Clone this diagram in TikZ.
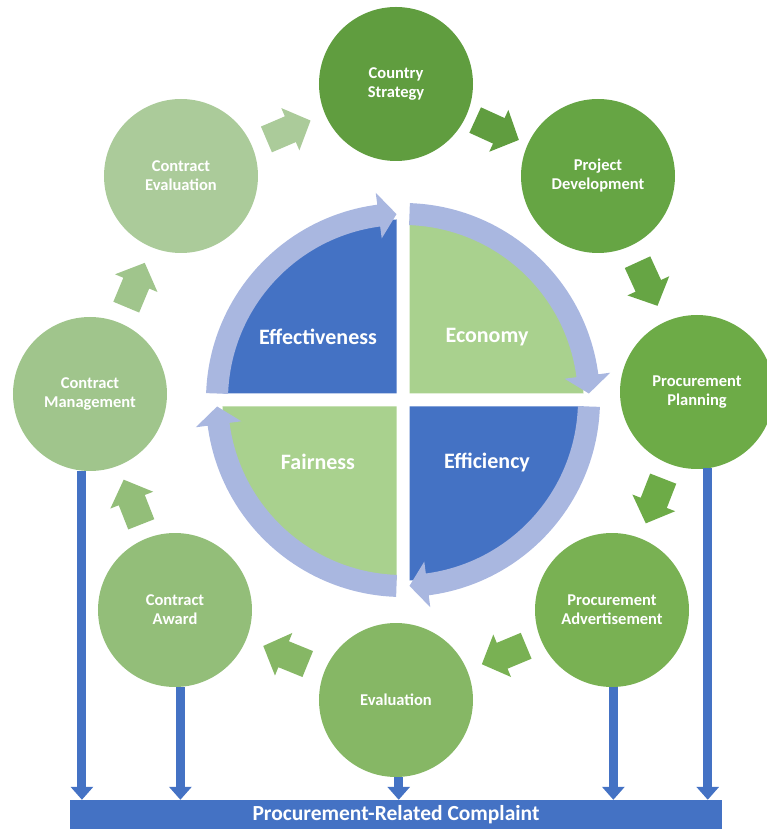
\documentclass[tikz,border=0pt]{standalone}
\usepackage{fontspec}
\setmainfont{Carlito}
\usetikzlibrary{arrows.meta}
\usetikzlibrary{calc}

\definecolor{csgreen}{HTML}{609D3F}
\definecolor{pdgreen}{HTML}{66A544}
\definecolor{ppgreen}{HTML}{6DAB47}
\definecolor{pagreen}{HTML}{79B153}
\definecolor{evgreen}{HTML}{86B765}
\definecolor{cagreen}{HTML}{93BE79}
\definecolor{cmgreen}{HTML}{A0C58C}
\definecolor{cegreen}{HTML}{ABCB9A}
\definecolor{qblue}{HTML}{4472C4}
\definecolor{qgreen}{HTML}{A9D18E}
\definecolor{ringblue}{HTML}{A9B7E0}

% curved block arrow on the ring: colour, tail angle, head base angle, tip angle
\newcommand{\ringarrow}[4]{%
	\fill[#1] (#2:197) arc[start angle=#2, end angle=#3, radius=197]
		-- (#3:209) -- (#4:186) -- (#3:163) -- (#3:175)
		arc[start angle=#3, end angle=#2, radius=175] -- cycle;}

% block arrow half way from one step to the next: from, to, colour
\newcommand{\flowarrow}[3]{%
	\path let \p1=($(#2)-(#1)$), \n1={atan2(\y1,\x1)} in
		($(#1)!0.5!(#2)$) pic[rotate=\n1, fill=#3] {flow};}

\tikzset{
	quad/.style={text=white, font=\fontsize{22}{26}\selectfont\bfseries},
	drop/.style={draw=qblue, line width=9pt, -{Triangle[width=22pt,length=13pt]}},
	flow/.pic={\path[pic actions] (-24,-14) -- (2,-14) -- (2,-23) -- (24,0) -- (2,23) -- (2,14) -- (-24,14) -- cycle;}
}

\begin{document}
\begin{tikzpicture}[x=1pt,y=1pt]
	\useasboundingbox (-403,-429) rectangle (364,400);

	% the four quarters
	\fill[qblue] (-6.5,6.5) -- ++(-174,0) arc[start angle=180, end angle=90, radius=174] -- cycle;
	\fill[qgreen] (6.5,6.5) -- ++(0,174) arc[start angle=90, end angle=0, radius=174] -- cycle;
	\fill[qblue] (6.5,-6.5) -- ++(174,0) arc[start angle=0, end angle=-90, radius=174] -- cycle;
	\fill[qgreen] (-6.5,-6.5) -- ++(0,-174) arc[start angle=-90, end angle=-180, radius=174] -- cycle;

	% ring of arrows round them
	\ringarrow{ringblue}{178}{97.5}{92}
	\ringarrow{ringblue}{88}{7.5}{2}
	\ringarrow{ringblue}{-2}{-82.5}{-88}
	\ringarrow{ringblue}{-92}{-172.5}{-178}

	\node[quad] (effect) at (-85,63) {Effectiveness};
	\node[quad] (econ) at (84,63) {Economy};
	\node[quad] (effic) at (84,-62) {Efficiency};
	\node[quad] (fair) at (-85,-62) {Fairness};

	\begin{scope}[every node/.style={circle, minimum size=154pt, inner sep=0pt, text=white, align=center,
	              font=\fontsize{16.5}{19}\selectfont\bfseries}]
		\node[fill=csgreen] (cs) at (-7,316) {Country\\Strategy};
		\node[fill=pdgreen] (pd) at (195,224) {Project\\Development};
		\node[fill=ppgreen] (pp) at (294,8) {Procurement\\Planning};
		\node[fill=pagreen] (pa) at (209,-210) {Procurement\\Advertisement};
		\node[fill=evgreen] (ev) at (-7,-300) {Evaluation};
		\node[fill=cagreen] (ca) at (-228,-210) {Contract\\Award};
		\node[fill=cmgreen] (cm) at (-313,6) {Contract\\Management};
		\node[fill=cegreen] (ce) at (-222,224) {Contract\\Evaluation};
	\end{scope}

	% block arrows from step to step
	\flowarrow{cs}{pd}{csgreen}
	\flowarrow{pd}{pp}{pdgreen}
	\flowarrow{pp}{pa}{ppgreen}
	\flowarrow{pa}{ev}{pagreen}
	\flowarrow{ev}{ca}{evgreen}
	\flowarrow{ca}{cm}{cagreen}
	\flowarrow{cm}{ce}{cmgreen}
	\flowarrow{ce}{cs}{cegreen}

	\node[fill=qblue, minimum width=652pt, minimum height=30pt, inner sep=0pt, text=white,
	      font=\fontsize{21.5}{25}\selectfont\bfseries] (bar) at (-7,-415) {Procurement-Related Complaint};

	\draw[drop] (cm.264) -- (cm.264 |- bar.north);
	\draw[drop] (ca.274) -- (ca.274 |- bar.north);
	\draw[drop] (ev.272) -- (ev.272 |- bar.north);
	\draw[drop] (pa.271) -- (pa.271 |- bar.north);
	\draw[drop] (pp.278) -- (pp.278 |- bar.north);
\end{tikzpicture}
\end{document}
